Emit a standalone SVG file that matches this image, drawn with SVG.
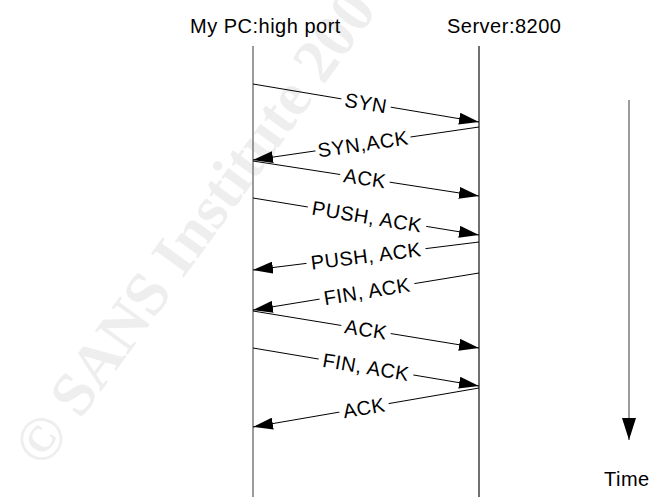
<svg xmlns="http://www.w3.org/2000/svg" width="652" height="497" viewBox="0 0 652 497">
  <style>
    text { font-family: "Liberation Sans", Arial, sans-serif; font-size: 20px; letter-spacing: 0.5px; fill: #000; }
    .watermark { font-family: "Liberation Serif", "Times New Roman", serif; font-size: 62px; font-weight: bold; fill: #eeeeee; letter-spacing: 0; }
    .lifeline { stroke: #7a7a7a; stroke-width: 1.5; fill: none; }
    .lifeline.server { stroke: #222; stroke-width: 1.3; }
    .msg { stroke: #000; stroke-width: 1; fill: none; marker-end: url(#head); }
    .lbl rect { fill: #fff; }
    .lbl text { text-anchor: middle; }
    .timeline { stroke: #7a7a7a; stroke-width: 1.5; fill: none; marker-end: url(#timehead); }
  </style>
  <defs>
    <marker id="head" markerUnits="userSpaceOnUse" markerWidth="20" markerHeight="12" refX="20" refY="6" orient="auto">
      <path d="M0,0 L20,6 L0,12 z" fill="#000"/>
    </marker>
    <marker id="timehead" markerUnits="userSpaceOnUse" markerWidth="14" markerHeight="22" refX="7" refY="22" orient="0">
      <path d="M0,0 L14,0 L7,22 z" fill="#000"/>
    </marker>
  </defs>

  <rect width="652" height="497" fill="#fff"/>

  <!-- background watermark -->
  <text class="watermark" x="44" y="470" transform="rotate(-54 44 470)">© SANS Institute 200</text>

  <!-- participants -->
  <g id="pc">
    <text x="190" y="33">My PC:high port</text>
    <line class="lifeline" x1="253" y1="46" x2="253" y2="497"/>
  </g>
  <g id="server">
    <text x="447" y="33">Server:8200</text>
    <line class="lifeline server" x1="479" y1="46" x2="479" y2="497"/>
  </g>

  <!-- time axis -->
  <g id="time">
    <line class="timeline" x1="629" y1="100" x2="629" y2="440"/>
    <text x="604" y="486">Time</text>
  </g>

  <!-- messages -->
  <g id="connectors">
    <line class="msg" x1="253" y1="84" x2="479" y2="122"/>
    <line class="msg" x1="479" y1="127" x2="253" y2="160"/>
    <line class="msg" x1="253" y1="161" x2="479" y2="196"/>
    <line class="msg" x1="253" y1="198" x2="479" y2="235"/>
    <line class="msg" x1="479" y1="242" x2="253" y2="270"/>
    <line class="msg" x1="479" y1="273" x2="253" y2="310"/>
    <line class="msg" x1="253" y1="311" x2="479" y2="348"/>
    <line class="msg" x1="253" y1="348" x2="479" y2="386"/>
    <line class="msg" x1="479" y1="388" x2="253" y2="427"/>
  </g>

  <!-- message labels, laid along their lines -->
  <g id="labels">
    <g class="lbl" transform="translate(366 103) rotate(9.5)"><rect x="-25" y="-9" width="50" height="18"/><text y="7">SYN</text></g>
    <g class="lbl" transform="translate(363 143.9) rotate(-8.3)"><rect x="-48" y="-9" width="96" height="18"/><text y="7">SYN,ACK</text></g>
    <g class="lbl" transform="translate(365 178.3) rotate(8.8)"><rect x="-25" y="-9" width="50" height="18"/><text y="7">ACK</text></g>
    <g class="lbl" transform="translate(367 216.7) rotate(9.3)"><rect x="-60" y="-9" width="120" height="18"/><text y="7">PUSH, ACK</text></g>
    <g class="lbl" transform="translate(366 256) rotate(-7.1)"><rect x="-60" y="-9" width="120" height="18"/><text y="7">PUSH, ACK</text></g>
    <g class="lbl" transform="translate(367 291.3) rotate(-9.3)"><rect x="-48" y="-9" width="96" height="18"/><text y="7">FIN, ACK</text></g>
    <g class="lbl" transform="translate(366 329.5) rotate(9.3)"><rect x="-25" y="-9" width="50" height="18"/><text y="7">ACK</text></g>
    <g class="lbl" transform="translate(366 367) rotate(9.5)"><rect x="-48" y="-9" width="96" height="18"/><text y="7">FIN, ACK</text></g>
    <g class="lbl" transform="translate(364 407.8) rotate(-9.8)"><rect x="-25" y="-9" width="50" height="18"/><text y="7">ACK</text></g>
  </g>
</svg>
